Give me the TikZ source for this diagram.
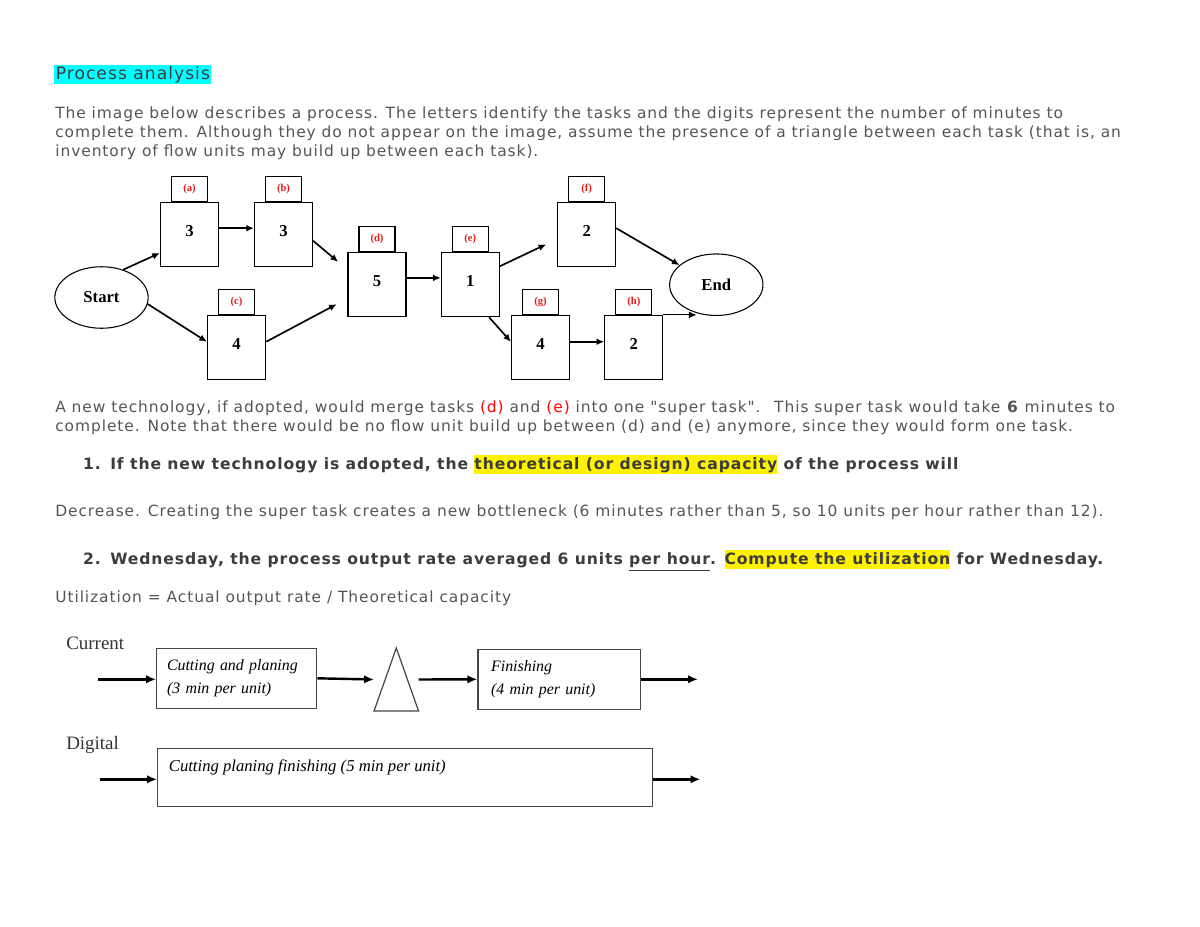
\documentclass[tikz,border=0pt]{standalone}
\usepackage{fontspec}
\setmainfont{DejaVu Sans}[LetterSpace=6, Ligatures=TeXOff]
\newfontfamily\qfont{DejaVu Sans}[LetterSpace=5.8, Ligatures=TeXOff]
\newfontfamily\drawfont{Liberation Serif}
\usetikzlibrary{positioning,arrows.meta,shapes.geometric}
\definecolor{txtgray}{RGB}{85,85,85}
\definecolor{qgray}{RGB}{60,60,60}
\definecolor{tabred}{RGB}{235,25,25}
\definecolor{framegray}{RGB}{70,70,70}
\definecolor{hlcyan}{RGB}{0,255,255}
\newcommand{\hl}[1]{{\setlength{\fboxsep}{0pt}\colorbox{yellow}{\rule[-3pt]{0pt}{12.5pt}#1}}}

\tikzset{
  body/.style={anchor=base west, inner sep=0pt, text=txtgray, font=\fontsize{10.2}{12}\selectfont},
  quest/.style={anchor=base west, inner sep=0pt, text=qgray, font=\qfont\bfseries\fontsize{10.3}{12}\selectfont},
  task/.style={draw, line width=0.8pt, minimum width=38.3pt, minimum height=42.2pt, inner sep=0pt,
    text depth=4.5pt, font=\drawfont\bfseries\fontsize{11}{13}\selectfont},
  tab/.style={draw, line width=0.8pt, minimum width=23.8pt, minimum height=16.5pt, inner sep=0pt,
    text=tabred, font=\drawfont\bfseries\fontsize{7}{8}\selectfont},
  term/.style={draw, ellipse, line width=0.7pt, minimum width=61.6pt, minimum height=40.6pt, inner sep=0pt,
    font=\drawfont\bfseries\fontsize{11}{13}\selectfont},
  stage/.style={draw=framegray, line width=0.8pt, minimum height=39.6pt, align=left,
    font=\drawfont\itshape\fontsize{10.5}{15.2}\selectfont},
  side/.style={anchor=base west, inner sep=0pt, text=black!80, font=\drawfont\fontsize{12.5}{14}\selectfont},
  flow/.style={->, line width=1.6pt, >={Latex[length=6.5pt,width=5.5pt]}},
}

\begin{document}
\begin{tikzpicture}[x=0.66pt, y=-0.66pt, >={Latex[length=5pt,width=4.5pt]}, node distance=0pt]
  \useasboundingbox (0,0) rectangle (1200,927);
  \fill[white] (0,0) rectangle (1200,927);

  \node[anchor=base west, fill=hlcyan, inner xsep=1pt, inner ysep=0pt, text height=9.6pt, text depth=3pt,
    text=qgray, font=\fontsize{11.3}{13}\selectfont] (title) at (54,79.5) {Process analysis};

  \node[body] (p1a) at (55,118) {The image below describes a process. The letters identify the tasks and the digits represent the number of minutes to};
  \node[body] (p1b) at (55,137) {complete them. Although they do not appear on the image, assume the presence of a triangle between each task (that is, an};
  \node[body] (p1c) at (55,156) {inventory of flow units may build up between each task).};

  \node[task] (a) at (189.5,234.5) {3};
  \node[task] (b) at (283.5,234.5) {3};
  \node[task] (c) at (236.5,347.5) {4};
  \node[task] (d) at (377,284.7) {5};
  \node[task] (e) at (470.3,284.7) {1};
  \node[task] (f) at (586.7,234.5) {2};
  \node[task] (g) at (540.5,347.5) {4};
  \node[task] (h) at (633.8,347.5) {2};

  \node[tab, above=of a] (ta) {(a)};
  \node[tab, above=of b] (tb) {(b)};
  \node[tab, above=of c] (tc) {(c)};
  \node[tab, above=of d] (td) {(d)};
  \node[tab, above=of e] (te) {(e)};
  \node[tab, above=of f] (tf) {(f)};
  \node[tab, above=of g] (tg) {(g)};
  \node[tab, above=of h] (th) {(h)};

  \node[term] (start) at (101.5,297.5) {Start};
  \node[term] (end) at (716.3,284.7) {End};

  \draw[->, line width=1.1pt] (start.52) -- (a.212);
  \draw[->, line width=1.1pt] (a.12) -- (b.168);
  \draw[->, line width=1.1pt, shorten >=8pt] (b.348) -- (d.153);
  \draw[->, line width=1.1pt] (start.-8) -- (c.169);
  \draw[->, line width=1.1pt, shorten >=8pt] (c.11) -- (d.205);
  \draw[->, line width=1.1pt] (d.13) -- (e.167);
  \draw[->, line width=1.1pt, shorten >=8pt] (e.32) -- (f.189);
  \draw[->, line width=1.1pt] (e.300) -- (g.169);
  \draw[->, line width=1.1pt] (f.12) -- (end.152);
  \draw[->, line width=1.1pt] (g.11) -- (h.169);
  \draw[->, line width=0.6pt] (h.north east) -- (h.north east -| end.235);

  \node[body] (p2a) at (55,412.5) {A new technology, if adopted, would merge tasks \textcolor{red}{(d)} and \textcolor{red}{(e)} into one "super task".~ This super task would take \textbf{6} minutes to};
  \node[body] (p2b) at (55,431.5) {complete. Note that there would be no flow unit build up between (d) and (e) anymore, since they would form one task.};

  \node[quest] (num1) at (82.7,469.5) {1.};
  \node[quest] (q1) at (110,469.5) {If the new technology is adopted, the \hl{theoretical (or design) capacity} of the process will};
  \node[body] (ans1) at (55,516.5) {Decrease. Creating the super task creates a new bottleneck (6 minutes rather than 5, so 10 units per hour rather than 12).};
  \node[quest] (num2) at (82.7,564.5) {2.};
  \node[quest] (q2) at (110,564.5) {Wednesday, the process output rate averaged 6 units \underline{per hour}. \hl{Compute the utilization} for Wednesday.};
  \node[body] (ans2) at (55,602.5) {Utilization = Actual output rate / Theoretical capacity};

  \node[side] (current) at (66,649.3) {Current};
  \node[stage, minimum width=105.6pt, text width=92pt, inner xsep=6.8pt] (cp) at (236.7,678.3) {Cutting and planing\\(3 min per unit)};
  \node[minimum width=29pt, minimum height=41.2pt, inner sep=0pt] (inv) at (396.3,679.5) {};
  \draw[framegray, line width=0.8pt] (inv.north) -- (inv.south east) -- (inv.south west) -- cycle;
  \node[stage, minimum width=107.4pt, text width=90pt, inner xsep=8.7pt] (fin) at (559.3,679.3) {Finishing\\(4 min per unit)};
  \coordinate (curIn) at (98.3,679.3);
  \coordinate (curOut) at (698,679.3);
  \draw[flow] (curIn) -- (curIn -| cp.west);
  \draw[flow] (cp.east) -- (inv.west);
  \draw[flow] (inv.east) -- (fin.west);
  \draw[flow] (fin.east) -- (curOut);

  \node[side] (digital) at (66,749.3) {Digital};
  \node[stage, minimum width=326.6pt, minimum height=38.5pt] (dig) at (405.1,777.5) {};
  \node[anchor=base west, inner sep=0pt, font=\drawfont\itshape\fontsize{11}{13}\selectfont] (digtxt) at (168.6,771.7) {Cutting planing finishing (5 min per unit)};
  \coordinate (digIn) at (100,779.3);
  \coordinate (digOut) at (700.4,779.3);
  \draw[flow] (digIn) -- (digIn -| dig.west);
  \draw[flow] (digIn -| dig.east) -- (digOut);
\end{tikzpicture}
\end{document}
